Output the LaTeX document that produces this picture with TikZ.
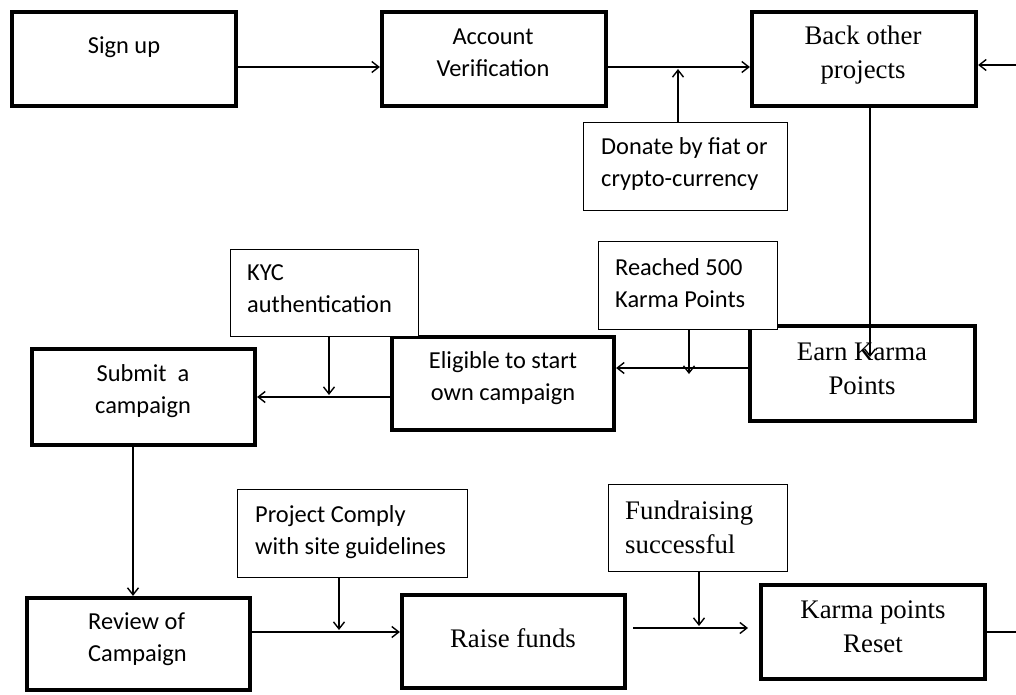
\documentclass[tikz,border=0pt]{standalone}
\usepackage{fontspec}
\newfontfamily\calfont{Carlito}
\newfontfamily\timesfont{Liberation Serif}
\usetikzlibrary{arrows.meta}
\begin{document}
\begin{tikzpicture}[x=1pt,y=-1pt,
  bigbox/.style={draw,line width=4.2pt,inner sep=0pt,fill=white},
  smallbox/.style={draw,line width=1.4pt,inner sep=0pt,fill=white},
  sans/.style={font=\calfont\fontsize{24.4}{32}\selectfont,inner sep=0pt},
  serif/.style={font=\timesfont\fontsize{26.8}{34}\selectfont,inner sep=0pt},
  arr/.style={line width=1.4pt,-{Straight Barb[length=7pt,width=11pt,line width=1.4pt]}},
  plain/.style={line width=1.4pt}]
\useasboundingbox (0,0) rectangle (1016,695);
% thick boxes
\node[bigbox,minimum width=224pt,minimum height=94pt] (signup) at (124,59) {};
\node[bigbox,minimum width=224pt,minimum height=94pt] (account) at (494,59) {};
\node[bigbox,minimum width=224pt,minimum height=94pt] (back) at (864,59) {};
\node[bigbox,minimum width=223pt,minimum height=96pt] (submit) at (143.5,397) {};
\node[bigbox,minimum width=222pt,minimum height=93pt] (eligible) at (503,383.5) {};
\node[bigbox,minimum width=225pt,minimum height=95pt] (earn) at (862.5,373.5) {};
\node[bigbox,minimum width=223pt,minimum height=92pt] (review) at (138.5,644) {};
\node[bigbox,minimum width=223pt,minimum height=93pt] (raise) at (513.5,641.5) {};
\node[bigbox,minimum width=224pt,minimum height=94pt] (reset) at (873,632) {};
% thin boxes
\node[smallbox,minimum width=204pt,minimum height=88pt] (donate) at (685.5,166.5) {};
\node[smallbox,minimum width=188pt,minimum height=87pt] (kyc) at (324.5,293) {};
\node[smallbox,minimum width=179pt,minimum height=88pt] (reached) at (688,285.5) {};
\node[smallbox,minimum width=230pt,minimum height=88pt] (comply) at (352.5,533.5) {};
\node[smallbox,minimum width=179pt,minimum height=87pt] (fund) at (698,528) {};
% coordinates
\coordinate (d1) at (678,69);
\coordinate (rightin) at (1016,65);
\coordinate (k1) at (870,357);
\coordinate (r1) at (689,374);
\coordinate (y1) at (329,395);
\coordinate (p1) at (339,630);
\coordinate (f0) at (633,628);
\coordinate (f1) at (748,628);
\coordinate (f2) at (699,626);
\coordinate (out) at (1016,632);
% connectors
\draw[arr] (signup.east |- 0,67) -- (account.west |- 0,67);
\draw[arr] (account.east |- 0,67) -- (back.west |- 0,67);
\draw[arr] (donate.north -| d1) -- (d1);
\draw[arr] (rightin) -- (back.east |- rightin);
\draw[arr] (back.south -| k1) -- (k1);
\draw[arr] (earn.west |- 0,368) -- (eligible.east |- 0,368);
\draw[arr] (reached.south -| r1) -- (r1);
\draw[arr] (eligible.west |- 0,397) -- (submit.east |- 0,397);
\draw[arr] (kyc.south -| y1) -- (y1);
\draw[arr] (submit.south -| 133,0) -- (review.north -| 133,0);
\draw[arr] (review.east |- 0,632) -- (raise.west |- 0,632);
\draw[arr] (comply.south -| p1) -- (p1);
\draw[arr] (f0) -- (f1);
\draw[arr] (fund.south -| f2) -- (f2);
\draw[plain] (reset.east |- out) -- (out);
% texts
\node[sans] (tsignup) at (124,47) {Sign up};
\node[sans,align=center] (taccount) at (493,53) {Account\\Verification};
\node[serif,align=center] (tback) at (863,55) {Back other\\projects};
\node[sans,align=left,anchor=west] (tdonate) at (601,164) {Donate by fiat or\\crypto-currency};
\node[sans,align=left,anchor=west] (tkyc) at (247,289) {KYC\\authentication};
\node[sans,align=left,anchor=west] (treached) at (615,283) {Reached 500\\Karma Points};
\node[sans,align=center] (tsubmit) at (143,391) {Submit~ a\\campaign};
\node[sans,align=center] (teligible) at (503,378) {Eligible to start\\own campaign};
\node[serif,align=center] (tearn) at (862,369) {Earn Karma\\Points};
\node[sans,align=left,anchor=west] (treview) at (88,639) {Review of\\Campaign};
\node[sans,align=left,anchor=west] (tcomply) at (255,532) {Project Comply\\with site guidelines};
\node[serif] (traise) at (513,638) {Raise funds};
\node[serif,align=left,anchor=west] (tfund) at (625,527) {Fundraising\\successful};
\node[serif,align=center] (treset) at (873,627) {Karma points\\Reset};
\end{tikzpicture}
\end{document}
